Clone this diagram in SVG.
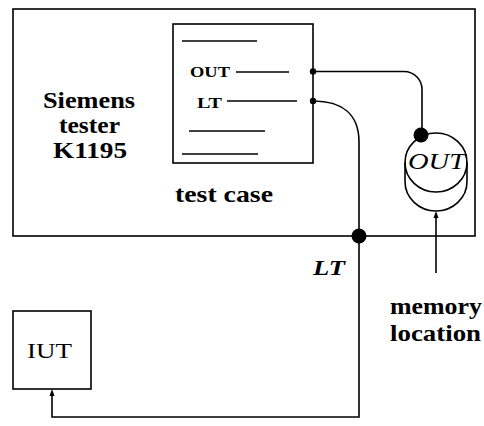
<svg xmlns="http://www.w3.org/2000/svg" width="484" height="426" viewBox="0 0 484 426">
<defs>
<style>
.box{fill:none;stroke:#000;stroke-width:1.6}
.ln{fill:none;stroke:#000;stroke-width:1.6}
.thin{fill:none;stroke:#000;stroke-width:1.3}
.t{font-family:"Liberation Serif",serif;fill:#000}
.b{font-weight:bold}
.i{font-style:italic}
.ah{fill:#000}
</style>
</defs>
<g id="tester">
<rect class="box" x="13" y="9" width="462" height="227"/>
<text class="t b" x="89" y="108" font-size="24" text-anchor="middle" textLength="92" lengthAdjust="spacingAndGlyphs">Siemens</text>
<text class="t b" x="89.5" y="133" font-size="24" text-anchor="middle" textLength="61" lengthAdjust="spacingAndGlyphs">tester</text>
<text class="t b" x="90" y="158" font-size="24" text-anchor="middle" textLength="74" lengthAdjust="spacingAndGlyphs">K1195</text>
</g>
<g id="testcase">
<rect class="box" x="173" y="24" width="140" height="139"/>
<line class="thin" x1="182" y1="41" x2="257" y2="41"/>
<text class="t b" x="190" y="77" font-size="14" textLength="40" lengthAdjust="spacingAndGlyphs">OUT</text>
<line class="thin" x1="236" y1="72" x2="289" y2="72"/>
<text class="t b" x="197" y="108" font-size="14" textLength="25" lengthAdjust="spacingAndGlyphs">LT</text>
<line class="thin" x1="227" y1="101" x2="297" y2="101"/>
<line class="thin" x1="189" y1="131" x2="265" y2="131"/>
<line class="thin" x1="182" y1="154" x2="258" y2="154"/>
<text class="t b" x="175" y="202" font-size="23" textLength="98" lengthAdjust="spacingAndGlyphs">test case</text>
</g>
<g id="memory">
<ellipse class="ln" cx="436" cy="162.5" rx="31" ry="29.5"/>
<path class="ln" d="M405,162.5 L405,181.5 A31,29.5 0 0 0 467,181.5 L467,162.5"/>
<text class="t i" x="408" y="169" font-size="24" textLength="57" lengthAdjust="spacingAndGlyphs">OUT</text>
<text class="t b" x="390" y="314" font-size="23" textLength="92" lengthAdjust="spacingAndGlyphs">memory</text>
<text class="t b" x="390" y="341" font-size="23" textLength="91" lengthAdjust="spacingAndGlyphs">location</text>
</g>
<g id="iut">
<rect class="box" x="13" y="311" width="78" height="78"/>
<text class="t" x="27" y="358" font-size="22" textLength="45" lengthAdjust="spacingAndGlyphs">IUT</text>
</g>
<g id="connectors">
<path class="ln" d="M313,71.5 L404,71.5 A18,18 0 0 1 422,89.5 L422,135"/>
<path class="ln" d="M313,101 C342,101 359,114 359,142 L359,417 L52,417 L52,392"/>
<polygon class="ah" points="52,389 49.5,396 54.5,396"/>
<line class="ln" x1="436" y1="273" x2="436" y2="214"/>
<polygon class="ah" points="436,211 433.5,218 438.5,218"/>
<circle cx="313" cy="71.5" r="3.2" fill="#000"/>
<circle cx="313" cy="101" r="3.2" fill="#000"/>
<circle cx="421" cy="135" r="7.5" fill="#000"/>
<circle cx="359" cy="236" r="7.5" fill="#000"/>
<text class="t b i" x="313" y="275" font-size="22" textLength="32" lengthAdjust="spacingAndGlyphs">LT</text>
</g>
</svg>
